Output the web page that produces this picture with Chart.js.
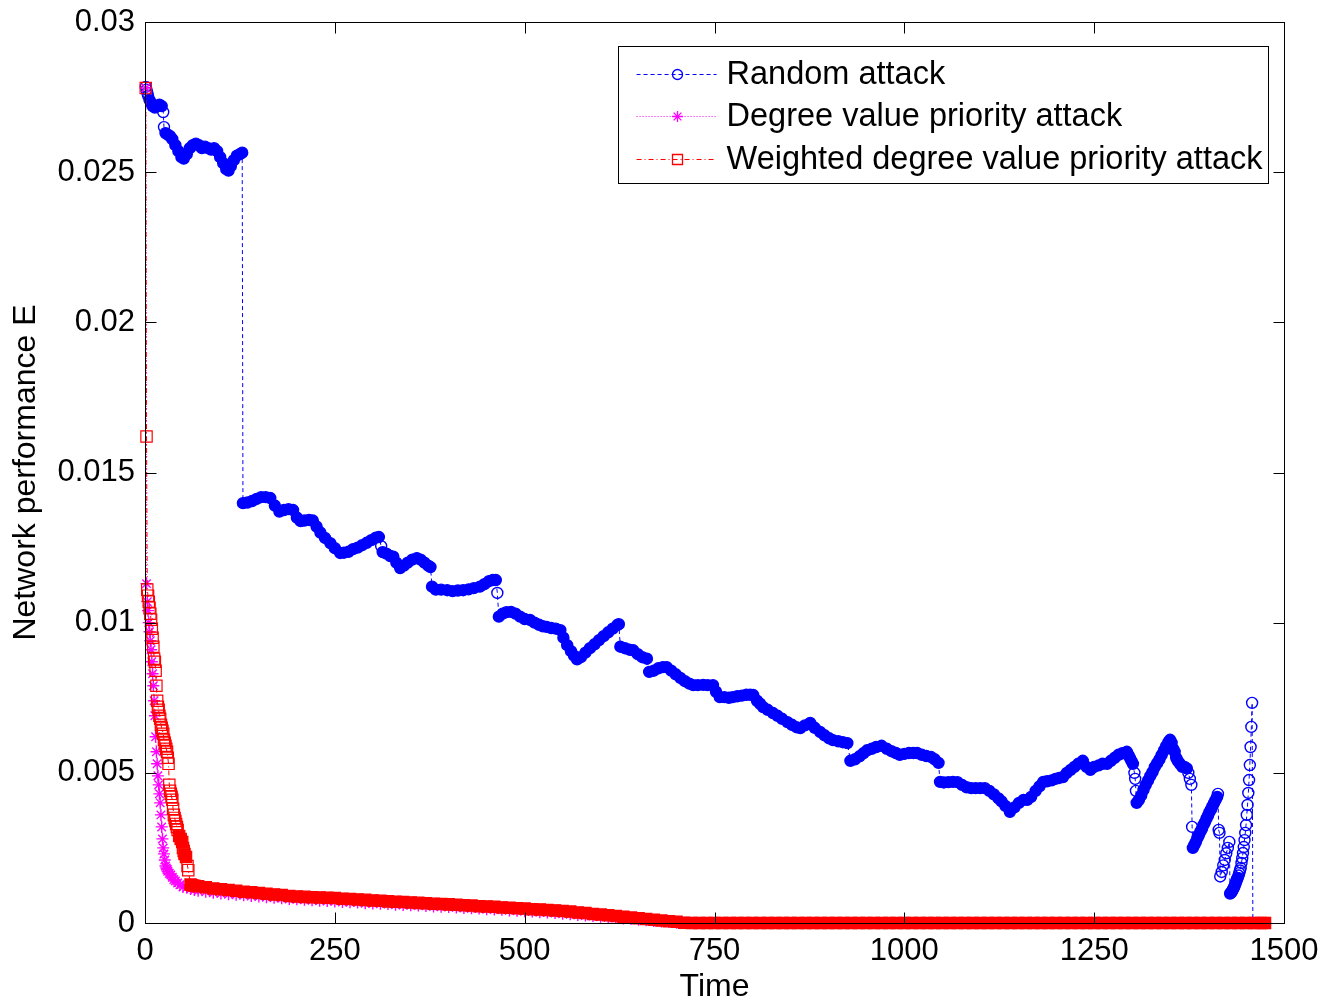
<!DOCTYPE html>
<html>
<head>
<meta charset="utf-8">
<title>Network performance E under attack</title>
<script src="https://cdn.jsdelivr.net/npm/chart.js@4.4.1/dist/chart.umd.min.js"></script>
<style>
  html, body { margin: 0; padding: 0; background: #fff; }
</style>
</head>
<body>
<canvas id="chart" width="1337" height="1001"></canvas>
<script>
/* --- data --- */
const seriesNames = ['Random attack', 'Degree value priority attack', 'Weighted degree value priority attack'];

const xTicks = [0, 250, 500, 750, 1000, 1250, 1500];
const xTickLabels = ['0', '250', '500', '750', '1000', '1250', '1500'];
const yTicks = [0, 0.005, 0.01, 0.015, 0.02, 0.025, 0.03];
const yTickLabels = ['0', '0.005', '0.01', '0.015', '0.02', '0.025', '0.03'];

// random attack
const randomTime = [
  1, 2, 3, 4, 6, 8, 10, 13, 16, 19, 22, 24,
  25, 27, 30, 33, 36, 40, 44, 48, 51, 55, 59, 63,
  67, 71, 75, 79, 83, 87, 91, 95, 99, 103, 107, 110,
  113, 117, 121, 125, 128,
  129, 135, 141, 147, 153, 159, 165, 171, 177, 183, 189, 195,
  200, 205, 210, 216, 221, 226, 231, 237, 244, 250, 257, 262,
  268, 274, 280, 286, 292, 298, 304, 308, 311, 313, 318, 323,
  327, 331, 336, 341, 346, 352, 358, 363, 368, 373, 376, 378,
  383, 390, 398, 405, 412, 419, 426, 433, 441, 447, 453, 458,
  462, 464, 466, 471, 476, 482, 488, 494, 500, 507, 513, 519,
  524, 529, 535, 541, 547, 551, 556, 561, 565, 569, 574, 580,
  586, 592, 598, 604, 610, 616, 622, 624, 626, 632, 638, 643,
  649, 655, 661, 664, 670, 676, 682, 687, 693, 699, 705, 711,
  717, 722, 728, 735, 741, 748, 752, 757, 763, 769, 774, 780,
  786, 792, 797, 801, 806, 810, 814, 820, 827, 833, 839, 846,
  852, 858, 863, 869, 876, 882, 889, 895, 901, 906, 913, 919,
  925, 929, 935, 941, 946, 951, 957, 963, 970, 977, 983, 989,
  994, 1000, 1006, 1012, 1017, 1023, 1029, 1035, 1040, 1045, 1047, 1052,
  1058, 1064, 1070, 1076, 1082, 1088, 1094, 1100, 1106, 1112, 1118, 1124,
  1128, 1133, 1139, 1145, 1151, 1157, 1162, 1167, 1173, 1178, 1183, 1188,
  1194, 1199, 1204, 1209, 1214, 1219, 1224, 1229, 1235, 1240, 1245, 1250,
  1256, 1261, 1267, 1272, 1277, 1282, 1287, 1293, 1295, 1297, 1299, 1301,
  1303, 1304, 1305, 1306, 1309, 1312, 1315, 1318, 1321, 1324, 1327, 1330,
  1333, 1336, 1339, 1342, 1345, 1348, 1350, 1352, 1354, 1356, 1358, 1360,
  1363, 1366, 1369, 1372, 1374, 1376, 1378, 1379, 1380, 1382, 1384, 1386,
  1388, 1390, 1392, 1394, 1396, 1398, 1400, 1402, 1404, 1406, 1408, 1410,
  1412, 1413, 1414, 1415, 1416, 1418, 1420, 1422, 1424, 1426, 1428, 1429,
  1430, 1431, 1432, 1433, 1434, 1435, 1436, 1437, 1438, 1439, 1440, 1441,
  1442, 1443, 1444, 1445, 1446, 1447, 1448, 1449, 1450, 1451, 1452, 1453,
  1454, 1455, 1456, 1457, 1458, 1459
];
const randomE = [
  .02784, .02775, .02765, .02755, .0274, .0273, .0272, .02715, .0272, .02725, .0272, .027,
  .0265, .0263, .02625, .0262, .0261, .0259, .0257, .0255, .02545, .0256, .0258, .0259,
  .02595, .0259, .0258, .02585, .0258, .02575, .0258, .0257, .0255, .0253, .0251, .02505,
  .0252, .0254, .02555, .0256, .02565,
  .01398, .014, .01405, .01412, .01418, .01418, .01415, .0139, .0137, .01375, .01378, .01375,
  .0135, .01338, .0134, .01342, .0134, .0132, .013, .01282, .01265, .01248, .01232, .01233,
  .01236, .01245, .0125, .01258, .01266, .01275, .01283, .01285, .01255, .01235, .0123, .01222,
  .0122, .012, .01182, .0119, .012, .0121, .01215, .0121, .012, .0119, .01185, .0112,
  .0111, .0111, .01108, .01105, .01107, .01108, .01111, .01115, .0112, .01128, .01138, .01142,
  .01142, .01099, .0102, .0103, .01035, .01036, .0103, .0102, .01012, .01009, .01, .00993,
  .00988, .00986, .00982, .0098, .00975, .0095, .00925, .00905, .0089, .00878, .00885, .009,
  .00915, .00928, .00942, .00955, .00968, .0098, .00992, .00995, .0092, .00915, .0091, .00908,
  .00895, .00885, .0088, .00836, .0084, .00848, .00852, .00852, .0084, .00828, .00816, .00805,
  .00797, .00792, .00792, .00793, .00792, .00792, .0077, .00752, .00752, .0075, .00752, .00755,
  .00757, .0076, .0076, .00759, .0074, .0073, .00719, .0071, .00699, .0069, .0068, .00669,
  .0066, .00652, .00649, .00658, .00666, .0065, .00636, .00625, .00615, .00609, .00605, .00602,
  .00599, .0054, .00545, .00555, .00565, .00575, .0058, .00586, .0059, .0058, .00572, .00566,
  .0056, .00563, .00566, .00566, .00566, .0056, .00556, .00553, .00545, .00533, .0047, .00468,
  .00469, .0047, .00469, .0046, .00452, .00449, .00449, .00449, .00449, .0044, .00428, .00415,
  .00405, .0039, .0037, .00385, .004, .0041, .0041, .0042, .0044, .00455, .0047, .00472,
  .00475, .0048, .00483, .00486, .005, .0051, .0052, .0053, .0054, .0052, .0051, .0052,
  .00525, .0053, .0053, .0054, .0055, .0056, .00565, .0057, .0056, .0055, .0054, .0053,
  .005, .0048, .0044, .004, .0041, .00425, .00443, .0046, .00475, .0049, .00503, .0052,
  .00532, .00545, .0056, .00575, .0059, .00603, .0061, .006, .0058, .0057, .0055, .0054,
  .0053, .0052, .0052, .00515, .005, .0048, .0046, .0032, .0025, .0026, .0027, .00283,
  .00293, .00305, .00314, .00327, .00336, .00348, .00358, .0037, .00379, .0039, .004, .0041,
  .0042, .0043, .0031, .003, .00155, .0017, .00192, .0021, .00232, .0025, .0027, .00098,
  .001, .00103, .00108, .00113, .00118, .00123, .0013, .00137, .00145, .0015, .00158, .00166,
  .00175, .00183, .002, .00216, .00233, .00253, .00276, .003, .00326, .0036, .00393, .00433,
  .00476, .00526, .00586, .00653, .00733, 0
];

// degree value priority attack, first steps
const degreeHeadTime = [
  1, 2, 3, 4, 5, 6, 7, 8, 9, 10, 11, 12, 13, 14, 15,
  16, 17, 18, 19, 20, 21, 22, 23, 24, 25, 26, 27, 28, 29, 30,
  32, 34, 36, 38, 40, 43, 46, 50, 55, 60, 65, 70
];
const degreeHeadE = [
  .0278, .0113, .0107, .0104, .01, .0097, .0094, .0091, .0087, .0083, .0079, .0074, .0069, .0062, .0057,
  .0053, .0049, .0046, .0043, .004, .0036, .0032, .0028, .0025, .0023, .0021, .0019, .00183, .00178, .00172,
  .00165, .0016, .00152, .00145, .0014, .00133, .00127, .0012, .00118, .00113, .0011, .00107
];

// weighted degree value priority attack, first steps
const weightedHeadTime = [
  1, 2, 3, 4, 5, 6, 7, 8, 9, 10, 11, 12, 13, 14, 15,
  16, 17, 18, 19, 20, 21, 22, 23, 24, 25, 26, 27, 28, 29, 30,
  31, 32, 33, 34, 35, 36, 37, 38, 39, 40, 41, 42, 43,
  45, 47, 49, 50, 51, 52, 54, 56, 57, 60, 62, 65, 70
];
const weightedHeadE = [
  .0278, .0162, .0111, .0109, .0107, .0105, .0103, .0101, .0098, .0095, .0092, .0088, .0087, .0084, .0079,
  .0074, .0072, .0071, .0069, .0068, .0066, .0065, .0064, .0063, .0061, .006, .0059, .0058, .0057, .0055,
  .0053, .0046, .0044, .0043, .0042, .0041, .0038, .0036, .0035, .0034, .0033, .0032, .0031,
  .0029, .0028, .0027, .0025, .0024, .0023, .0022, .0019, .00176, .00128, .00126, .00124, .00122
];

// the long tail shared by both priority attacks
const tailTime = [
  80, 90, 100, 110, 120, 130, 140, 150, 160, 170, 180, 190, 200, 210, 220, 230, 240, 250, 260, 270,
  280, 290, 300, 310, 320, 330, 340, 350, 360, 370, 380, 390, 400, 410, 420, 430, 440, 450, 460, 470,
  480, 490, 500, 510, 520, 530, 540, 550, 560, 570, 580, 590, 600, 610, 620, 630, 640, 650, 660, 670,
  680, 690, 700, 710, 720, 730, 740, 750, 760, 770, 780, 790, 800, 810, 820, 830, 840, 850, 860, 870,
  880, 890, 900, 910, 920, 930, 940, 950, 960, 970, 980, 990, 1000, 1010, 1020, 1030, 1040, 1050, 1060, 1070,
  1080, 1090, 1100, 1110, 1120, 1130, 1140, 1150, 1160, 1170, 1180, 1190, 1200, 1210, 1220, 1230, 1240, 1250, 1260, 1270,
  1280, 1290, 1300, 1310, 1320, 1330, 1340, 1350, 1360, 1370, 1380, 1390, 1400, 1410, 1420, 1430, 1440, 1450, 1460, 1470,
  1475
];
const degreeTailE = [
  .00104, .00101, .00098, .00096, .00094, .00092, .0009, .00088, .00086, .00084, .00082, .0008, .00079, .00077, .00076, .00074, .00073, .00072, .0007, .00069,
  .00068, .00066, .00065, .00064, .00063, .00061, .0006, .00059, .00058, .00057, .00055, .00054, .00053, .00052, .0005, .00049, .00048, .00046, .00045, .00044,
  .00042, .00041, .00039, .00038, .00036, .00035, .00033, .00031, .00029, .00027, .00025, .00023, .00021, .00019, .00017, .00015, .00013, .00011, .00009, .00007,
  .00005, .00003, .00001, 0, 0, 0, 0, 0, 0, 0, 0, 0, 0, 0, 0, 0, 0, 0, 0, 0,
  0, 0, 0, 0, 0, 0, 0, 0, 0, 0, 0, 0, 0, 0, 0, 0, 0, 0, 0, 0,
  0, 0, 0, 0, 0, 0, 0, 0, 0, 0, 0, 0, 0, 0, 0, 0, 0, 0, 0, 0,
  0, 0, 0, 0, 0, 0, 0, 0, 0, 0, 0, 0, 0, 0, 0, 0, 0, 0, 0, 0,
  0
];
const weightedTailE = [
  .00119, .00115, .00112, .0011, .00107, .00104, .00102, .001, .00097, .00095, .00093, .0009, .00088, .00087, .00086, .00085, .00084, .00083, .00081, .0008,
  .00078, .00077, .00075, .00074, .00072, .00071, .0007, .00068, .00067, .00066, .00064, .00063, .00062, .00061, .00059, .00058, .00056, .00055, .00054, .00052,
  .00051, .00049, .00048, .00046, .00045, .00043, .00042, .0004, .00038, .00035, .00033, .0003, .00028, .00026, .00023, .00021, .00018, .00016, .00013, .00011,
  .00008, .00006, .00004, .00001, 0, 0, 0, 0, 0, 0, 0, 0, 0, 0, 0, 0, 0, 0, 0, 0,
  0, 0, 0, 0, 0, 0, 0, 0, 0, 0, 0, 0, 0, 0, 0, 0, 0, 0, 0, 0,
  0, 0, 0, 0, 0, 0, 0, 0, 0, 0, 0, 0, 0, 0, 0, 0, 0, 0, 0, 0,
  0, 0, 0, 0, 0, 0, 0, 0, 0, 0, 0, 0, 0, 0, 0, 0, 0, 0, 0, 0,
  0
];

/* --- drawing --- */
const FONT = '"Liberation Sans", Arial, Helvetica, sans-serif';

const toPoints = (ts, es) => ts.map((t, i) => ({ x: t, y: es[i] }));

// matlab markers are hollow, but where the real curve has a point every step they merge
// into a solid band; fill a marker when its neighbours sit closer than `limit` px per step
function denseFill(color, limit) {
  return ctx => {
    const d = ctx.dataset.data, i = ctx.dataIndex;
    const xs = ctx.chart.scales.x, ys = ctx.chart.scales.y;
    let best = Infinity;
    [i - 1, i + 1].forEach(j => {
      if (j < 0 || j >= d.length) return;
      const dx = xs.getPixelForValue(d[j].x) - xs.getPixelForValue(d[i].x);
      const dy = ys.getPixelForValue(d[j].y) - ys.getPixelForValue(d[i].y);
      best = Math.min(best, Math.hypot(dx, dy) / Math.abs(d[j].x - d[i].x));
    });
    return best < limit ? color : 'rgba(0,0,0,0)';
  };
}

// keep the plot box where the figure has it: no extra room for half tick labels
function noEdgePadding(s) {
  s.paddingTop = 0; s.paddingBottom = 0;
  s.paddingLeft = 0; s.paddingRight = 0;
}

// box round the axes with inward ticks on all four sides
const matlabBox = {
  id: 'matlabBox',
  afterDatasetsDraw(chart) {
    const { ctx, chartArea: a, scales: { x, y } } = chart;
    const L = Math.round(a.left) + 0.5, R = Math.round(a.right) + 0.5;
    const T = Math.round(a.top) + 0.5, B = Math.round(a.bottom) + 0.5;
    ctx.save();
    ctx.strokeStyle = '#000';
    ctx.lineWidth = 1;
    ctx.setLineDash([]);
    ctx.strokeRect(L, T, R - L, B - T);
    ctx.beginPath();
    x.ticks.forEach(t => {
      const px = Math.round(x.getPixelForValue(t.value)) + 0.5;
      ctx.moveTo(px, B); ctx.lineTo(px, B - 11);
      ctx.moveTo(px, T); ctx.lineTo(px, T + 11);
    });
    y.ticks.forEach(t => {
      const py = Math.round(y.getPixelForValue(t.value)) + 0.5;
      ctx.moveTo(L, py); ctx.lineTo(L + 11, py);
      ctx.moveTo(R, py); ctx.lineTo(R - 11, py);
    });
    ctx.stroke();
    ctx.restore();
  }
};

const legendLook = [
  { color: '#0000ff', dash: [4, 3], marker: 'circle' },
  { color: '#ff00ff', dash: [1, 2], marker: 'star' },
  { color: '#ff0000', dash: [5, 3, 1, 3], marker: 'rect' }
];

const boxLegend = {
  id: 'boxLegend',
  afterDraw(chart) {
    const { ctx, chartArea: a } = chart;
    ctx.save();
    ctx.font = '32.5px ' + FONT;
    const textW = Math.max(...seriesNames.map(s => ctx.measureText(s).width));
    const right = Math.round(a.right - 16) + 0.5;
    const top = Math.round(a.top + 24) + 0.5;
    const textX = right - 6 - textW;
    const lineX0 = textX - 90, lineX1 = textX - 10;
    const left = Math.round(lineX0 - 19) + 0.5;
    const h = 137;
    ctx.fillStyle = '#fff';
    ctx.fillRect(left, top, right - left, h);
    ctx.strokeStyle = '#000';
    ctx.lineWidth = 1;
    ctx.strokeRect(left, top, right - left, h);

    seriesNames.forEach((name, i) => {
      const look = legendLook[i];
      const yy = Math.round(top + 27 + i * 42.5) + 0.5;
      const mx = Math.round((lineX0 + lineX1) / 2) + 0.5;
      ctx.strokeStyle = look.color;
      ctx.lineWidth = 1;
      ctx.setLineDash(look.dash);
      ctx.beginPath();
      ctx.moveTo(lineX0, yy); ctx.lineTo(lineX1, yy);
      ctx.stroke();
      ctx.setLineDash([]);
      ctx.lineWidth = 1.3;
      ctx.beginPath();
      if (look.marker === 'circle') {
        ctx.arc(mx, yy, 5, 0, Math.PI * 2);
      } else if (look.marker === 'rect') {
        ctx.rect(mx - 5, yy - 5, 10, 10);
      } else {
        for (let k = 0; k < 4; k++) {
          const ang = k * Math.PI / 4;
          ctx.moveTo(mx - 5.5 * Math.cos(ang), yy - 5.5 * Math.sin(ang));
          ctx.lineTo(mx + 5.5 * Math.cos(ang), yy + 5.5 * Math.sin(ang));
        }
      }
      ctx.stroke();
      ctx.fillStyle = '#000';
      ctx.textBaseline = 'middle';
      ctx.textAlign = 'left';
      ctx.fillText(name, textX, yy + 1);
    });
    ctx.restore();
  }
};

window.onload = () => {
  new Chart(document.getElementById('chart'), {
    type: 'line',
    data: {
      datasets: [
        {
          label: seriesNames[2],
          data: toPoints(weightedHeadTime.concat(tailTime), weightedHeadE.concat(weightedTailE)),
          borderColor: '#ff0000', borderWidth: 1, borderDash: [5, 3, 1, 3],
          pointStyle: 'rect', pointRadius: 8, pointBorderWidth: 1.2,
          pointBorderColor: '#ff0000', pointBackgroundColor: denseFill('#ff0000', 2.3),
          fill: false, tension: 0, clip: false
        },
        {
          label: seriesNames[1],
          data: toPoints(degreeHeadTime.concat(tailTime), degreeHeadE.concat(degreeTailE)),
          borderColor: '#ff00ff', borderWidth: 1, borderDash: [1, 2],
          pointStyle: 'star', pointRadius: 6, pointBorderWidth: 1.4,
          pointBorderColor: '#ff00ff', pointBackgroundColor: '#ff00ff',
          fill: false, tension: 0, clip: false
        },
        {
          label: seriesNames[0],
          data: toPoints(randomTime, randomE),
          borderColor: '#0000ff', borderWidth: 1, borderDash: [4, 3],
          pointStyle: 'circle', pointRadius: 5.5, pointBorderWidth: 1.4,
          pointBorderColor: '#0000ff', pointBackgroundColor: denseFill('#0000ff', 2.3),
          fill: false, tension: 0, clip: false
        }
      ]
    },
    options: {
      responsive: false,
      animation: false,
      events: [],
      layout: { padding: { top: 22, right: 53, left: 0, bottom: 0 } },
      plugins: { legend: { display: false }, tooltip: { enabled: false } },
      scales: {
        x: {
          type: 'linear', min: 0, max: 1500,
          afterBuildTicks: s => { s.ticks = xTicks.map(v => ({ value: v })); },
          afterFit: s => { s.height = 78; noEdgePadding(s); },
          grid: { display: false, drawTicks: false },
          border: { display: false },
          ticks: {
            callback: (v, i) => xTickLabels[i], color: '#000',
            font: { family: FONT, size: 31 }, padding: 10, maxRotation: 0, autoSkip: false
          },
          title: {
            display: true, text: 'Time', color: '#000',
            font: { family: FONT, size: 32, lineHeight: 1 }, padding: { top: 0, bottom: -2 }
          }
        },
        y: {
          type: 'linear', min: 0, max: 0.03,
          afterBuildTicks: s => { s.ticks = yTicks.map(v => ({ value: v })); },
          afterFit: s => { s.width = 145; noEdgePadding(s); },
          grid: { display: false, drawTicks: false },
          border: { display: false },
          ticks: {
            callback: (v, i) => yTickLabels[i], color: '#000',
            font: { family: FONT, size: 31 }, padding: 10, autoSkip: false
          },
          title: {
            display: true, text: 'Network performance E', color: '#000',
            font: { family: FONT, size: 32, lineHeight: 1 }, padding: { top: 10, bottom: 0 }
          }
        }
      }
    },
    plugins: [matlabBox, boxLegend]
  });
};
</script>
</body>
</html>
